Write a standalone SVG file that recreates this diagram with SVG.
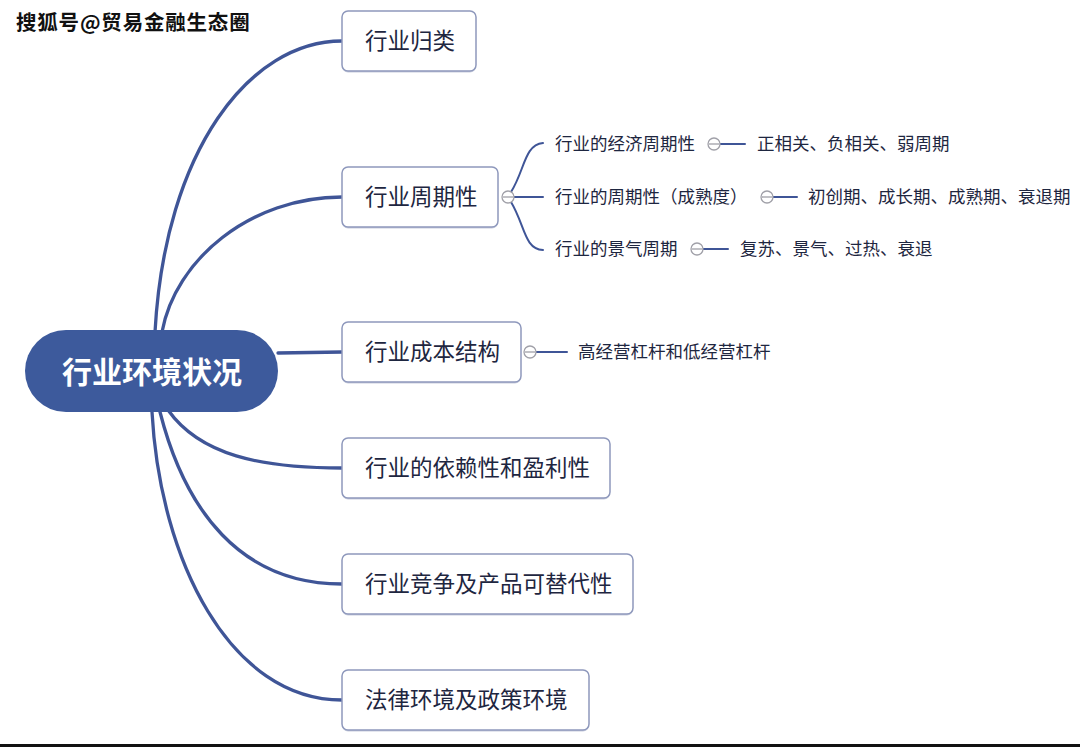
<svg xmlns="http://www.w3.org/2000/svg" width="1080" height="747" viewBox="0 0 1080 747">
<style>
.bg{fill:#ffffff}
.box{fill:#ffffff;stroke:#8e98bc;stroke-width:1.5}
.shadow{fill:#c9cede}
.t{font-family:"Noto Sans CJK SC","Noto Sans",sans-serif;fill:#1e2640}
.main{font-size:22.5px}
.sub{font-size:17.5px}
.root{fill:#3d5a9c}
.roott{font-family:"Noto Sans CJK SC","Noto Sans",sans-serif;font-size:30px;font-weight:bold;fill:#ffffff}
.conn{fill:none;stroke:#3f5597;stroke-width:3.3;stroke-linecap:round}
.sconn{fill:none;stroke:#3f5597;stroke-width:2;stroke-linecap:round}
.tog{fill:#ffffff;stroke:#a0a0a8;stroke-width:1.3}
.togm{stroke:#a0a0a8;stroke-width:1.3}
.wm{font-family:"Noto Sans CJK SC","Noto Sans",sans-serif;font-size:20.5px;font-weight:bold;fill:#111111;letter-spacing:0.8px}
</style>
<rect class="bg" x="0" y="0" width="1080" height="747"/>

<g id="connectors">
  <path class="conn" d="M155,332 C165,150 250,41 342,41"/>
  <path class="conn" d="M162,332 C175,260 250,197 342,197"/>
  <path class="conn" d="M278,353 L342,352"/>
  <path class="conn" d="M168,410 C200,455 260,468 342,468"/>
  <path class="conn" d="M160,412 C185,510 240,584 342,584"/>
  <path class="conn" d="M152,412 C160,560 230,700 342,700"/>
  <path class="sconn" d="M511,192 C525,170 524,145 543,143"/>
  <path class="sconn" d="M514,197 L543,197"/>
  <path class="sconn" d="M511,202 C525,225 524,249 543,250"/>
  <path class="sconn" d="M720,144 L745,144"/>
  <path class="sconn" d="M773,197 L797,197"/>
  <path class="sconn" d="M703,249 L728,249"/>
  <path class="sconn" d="M536,352 L567,352"/>
</g>

<g id="watermark">
  <text class="wm" x="16" y="30">搜狐号@贸易金融生态圈</text>
</g>

<g id="root">
  <rect class="root" x="25" y="330" width="253" height="82" rx="41"/>
  <text class="roott" x="152" y="383" text-anchor="middle">行业环境状况</text>
</g>

<g id="n1">
  <rect class="shadow" x="342" y="12.5" width="134" height="60" rx="6"/>
  <rect class="box" x="342" y="11" width="134" height="60" rx="6"/>
  <text class="t main" x="365" y="49">行业归类</text>
</g>

<g id="n2">
  <rect class="shadow" x="342" y="168.5" width="156" height="60" rx="6"/>
  <rect class="box" x="342" y="167" width="156" height="60" rx="6"/>
  <text class="t main" x="365" y="205">行业周期性</text>
  <circle class="tog" cx="508" cy="197" r="6"/>
  <line class="togm" x1="503" y1="197" x2="513" y2="197"/>
</g>

<g id="n2a">
  <text class="t sub" x="555" y="150">行业的经济周期性</text>
  <circle class="tog" cx="714" cy="144" r="6"/>
  <line class="togm" x1="709" y1="144" x2="719" y2="144"/>
</g>
<g id="n2a1">
  <text class="t sub" x="757" y="150">正相关、负相关、弱周期</text>
</g>

<g id="n2b">
  <text class="t sub" x="555" y="203">行业的周期性（成熟度）</text>
  <circle class="tog" cx="767" cy="197" r="6"/>
  <line class="togm" x1="762" y1="197" x2="772" y2="197"/>
</g>
<g id="n2b1">
  <text class="t sub" x="808" y="203">初创期、成长期、成熟期、衰退期</text>
</g>

<g id="n2c">
  <text class="t sub" x="555" y="255">行业的景气周期</text>
  <circle class="tog" cx="697" cy="249" r="6"/>
  <line class="togm" x1="692" y1="249" x2="702" y2="249"/>
</g>
<g id="n2c1">
  <text class="t sub" x="740" y="255">复苏、景气、过热、衰退</text>
</g>

<g id="n3">
  <rect class="shadow" x="342" y="323.5" width="179" height="60" rx="6"/>
  <rect class="box" x="342" y="322" width="179" height="60" rx="6"/>
  <text class="t main" x="365" y="360">行业成本结构</text>
  <circle class="tog" cx="530" cy="352" r="6"/>
  <line class="togm" x1="525" y1="352" x2="535" y2="352"/>
</g>
<g id="n3a">
  <text class="t sub" x="578" y="358">高经营杠杆和低经营杠杆</text>
</g>

<g id="n4">
  <rect class="shadow" x="342" y="439.5" width="268" height="60" rx="6"/>
  <rect class="box" x="342" y="438" width="268" height="60" rx="6"/>
  <text class="t main" x="365" y="476">行业的依赖性和盈利性</text>
</g>

<g id="n5">
  <rect class="shadow" x="342" y="555.5" width="291" height="60" rx="6"/>
  <rect class="box" x="342" y="554" width="291" height="60" rx="6"/>
  <text class="t main" x="365" y="592">行业竞争及产品可替代性</text>
</g>

<g id="n6">
  <rect class="shadow" x="342" y="671.5" width="247" height="60" rx="6"/>
  <rect class="box" x="342" y="670" width="247" height="60" rx="6"/>
  <text class="t main" x="365" y="708">法律环境及政策环境</text>
</g>

<rect x="0" y="744" width="1080" height="3" fill="#111111"/>
</svg>
